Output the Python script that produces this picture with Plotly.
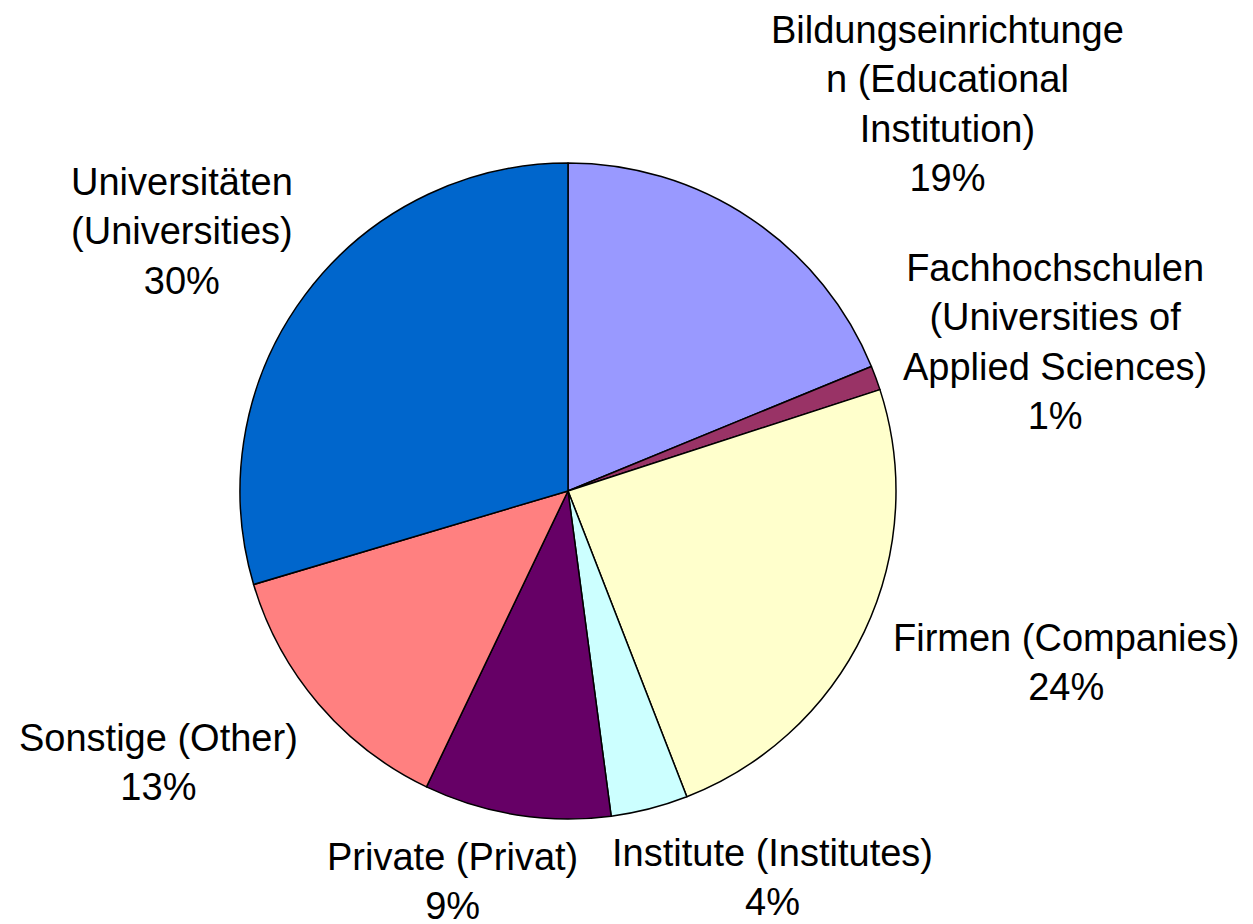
import plotly.graph_objects as go

# page has an 8px body margin; figure sized to fit the window, positions in window pixels
OFF = 8
W, H = 1253 - OFF, 924 - OFF

categories = [
    "Bildungseinrichtunge<br>n (Educational<br>Institution)",
    "Fachhochschulen<br>(Universities of<br>Applied Sciences)",
    "Firmen (Companies)",
    "Institute (Institutes)",
    "Private (Privat)",
    "Sonstige (Other)",
    "Universitäten<br>(Universities)",
]
values = [18.8, 1.2, 24.1, 3.8, 9.2, 13.3, 29.6]
colors = ["#9999FF", "#993366", "#FFFFCC", "#CCFFFF", "#660066", "#FF8080", "#0066CC"]

# label block centres in window pixels (layout only)
label_pos = [(948, 104), (1055, 342), (1066, 662), (772, 877), (452, 881), (158, 762), (182, 231)]

cx, cy, r = 568 - OFF, 491 - OFF, 328

fig = go.Figure(go.Pie(
    labels=categories,
    values=values,
    sort=False,
    direction="clockwise",
    rotation=0,
    marker=dict(colors=colors, line=dict(color="black", width=1.5)),
    textinfo="none",
    hoverinfo="label+percent",
    showlegend=False,
    domain=dict(x=[(cx - r) / W, (cx + r) / W], y=[1 - (cy + r) / H, 1 - (cy - r) / H]),
))

total = sum(values)
for cat, v, (px, py) in zip(categories, values, label_pos):
    pct = round(v / total * 100)
    fig.add_annotation(
        text=f"{cat}<br>{pct}%",
        x=(px - OFF) / W, y=1 - (py - OFF) / H, xref="paper", yref="paper",
        xanchor="center", yanchor="middle", showarrow=False,
        font=dict(family="Liberation Sans, Arial", size=38, color="black"),
        align="center",
    )

fig.update_layout(
    width=W, height=H,
    margin=dict(l=0, r=0, t=0, b=0),
    paper_bgcolor="white", plot_bgcolor="white",
)
fig.write_html("out.html")
